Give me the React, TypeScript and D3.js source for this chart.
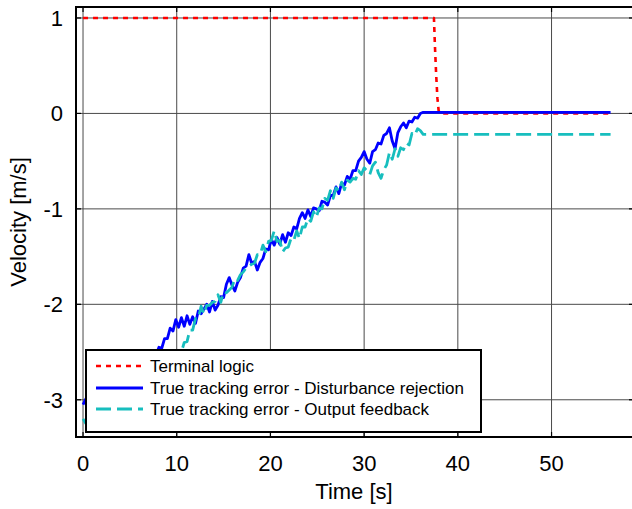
import React from "react";
import * as d3 from "d3";

const X_TICKS = [0, 10, 20, 30, 40, 50];
const Y_TICKS = [1, 0, -1, -2, -3];
const X_TICK_LABELS = ["0", "10", "20", "30", "40", "50"];
const Y_TICK_LABELS = ["1", "0", "-1", "-2", "-3"];

const SERIES_NAMES = [
  "Terminal logic",
  "True tracking error - Disturbance rejection",
  "True tracking error - Output feedback",
];

// Terminal logic [time, velocity]
const terminalLogic: [number, number][] = [
  [0, 1], [37.45, 1], [37.55, 0.72], [37.68, 0.42], [37.82, 0.16], [37.95, 0.03], [38.1, 0], [56.3, 0],
];

// sampled every 0.3 s from t = 0 to t = 36
const SAMPLE_STEP = 0.3;
const disturbanceRejectionRamp = [
  -3.05, -2.99, -3.08, -2.98, -3.0, -2.96, -2.97, -2.88, -2.95, -2.84,
  -2.91, -2.8, -2.83, -2.79, -2.78, -2.7, -2.78, -2.66, -2.73, -2.6,
  -2.69, -2.57, -2.61, -2.58, -2.56, -2.52, -2.53, -2.45, -2.46, -2.36,
  -2.36, -2.25, -2.28, -2.16, -2.24, -2.14, -2.23, -2.12, -2.21, -2.13,
  -2.2, -2.07, -2.1, -2.05, -2.0, -2.08, -1.97, -2.06, -2.01, -1.92,
  -1.93, -1.79, -1.72, -1.8, -1.86, -1.77, -1.72, -1.62, -1.6, -1.48,
  -1.57, -1.55, -1.64, -1.56, -1.52, -1.42, -1.43, -1.32, -1.38, -1.3,
  -1.37, -1.27, -1.35, -1.25, -1.28, -1.19, -1.21, -1.1, -1.04, -1.1,
  -1.01, -1.08, -0.99, -1.0, -1.02, -0.92, -0.93, -0.96, -0.86, -0.86,
  -0.77, -0.84, -0.73, -0.75, -0.66, -0.69, -0.6, -0.6, -0.5, -0.46,
  -0.4, -0.48, -0.52, -0.4, -0.38, -0.31, -0.32, -0.23, -0.21, -0.15,
  -0.29, -0.37, -0.2, -0.14, -0.1, -0.15, -0.08, -0.09, -0.04, -0.05,
  0.0,
];
const disturbanceRejectionTail: [number, number][] = [[36.3, 0.012], [56.3, 0.012]];

const outputFeedbackRamp = [
  -3.2, -3.25, -3.15, -3.21, -3.11, -3.17, -3.08, -3.09, -3.05, -3.06,
  -3.02, -3.01, -2.95, -3.03, -2.92, -2.94, -2.9, -2.91, -2.86, -2.87,
  -2.83, -2.84, -2.76, -2.84, -2.73, -2.76, -2.72, -2.72, -2.68, -2.67,
  -2.6, -2.67, -2.56, -2.58, -2.49, -2.5, -2.4, -2.39, -2.27, -2.27,
  -2.15, -2.15, -2.02, -2.1, -2.01, -2.01, -1.98, -1.97, -1.9, -1.98,
  -1.87, -1.88, -1.85, -1.82, -1.73, -1.75, -1.69, -1.66, -1.62, -1.6,
  -1.58, -1.57, -1.48, -1.48, -1.38, -1.45, -1.34, -1.33, -1.23, -1.34,
  -1.33, -1.45, -1.41, -1.4, -1.31, -1.33, -1.23, -1.31, -1.19, -1.19,
  -1.1, -1.13, -1.03, -1.09, -0.99, -1.0, -0.89, -0.91, -0.81, -0.89,
  -0.78, -0.81, -0.72, -0.8, -0.7, -0.72, -0.68, -0.69, -0.6, -0.64,
  -0.57, -0.6, -0.64, -0.55, -0.51, -0.62, -0.68, -0.59, -0.54, -0.41,
  -0.48, -0.37, -0.45, -0.36, -0.38, -0.31, -0.33, -0.21, -0.23, -0.16,
  -0.18,
];
const outputFeedbackTail: [number, number][] = [[36.3, -0.22], [56.3, -0.22]];

const COLORS = ["#ff0000", "#0000ff", "#17bebe"];
const DASHES = ["5 5", "none", "15 6"];

export default function App() {
  const W = 632;
  const H = 509;
  const left = 76;
  const right = 634;
  const top = 7;
  const bottom = 437;

  const x = d3.scaleLinear().domain([-0.75, 58.8]).range([left, right]);
  const y = d3.scaleLinear().domain([-3.39, 1.115]).range([bottom, top]);

  const drPts: [number, number][] = disturbanceRejectionRamp
    .map((v, i) => [i * SAMPLE_STEP, v] as [number, number])
    .concat(disturbanceRejectionTail);
  const ofPts: [number, number][] = outputFeedbackRamp
    .map((v, i) => [i * SAMPLE_STEP, v] as [number, number])
    .concat(outputFeedbackTail);

  const line = d3
    .line<[number, number]>()
    .x((d) => x(d[0]))
    .y((d) => y(d[1]));

  const seriesData = [terminalLogic, drPts, ofPts];
  const font = "'Liberation Sans', Arial, sans-serif";

  const legX = 86;
  const legY = 350;
  const legW = 395;
  const legH = 82;
  const rows = [366, 388, 409];

  return (
    <svg
      width={W}
      height={H}
      style={{ position: "absolute", left: 0, top: 0, background: "#fff" }}
      fontFamily={font}
    >
      <defs>
        <clipPath id="plotclip">
          <rect x={left} y={top} width={right - left} height={bottom - top} />
        </clipPath>
      </defs>
      <rect x={0} y={0} width={W} height={H} fill="#fff" />
      {/* grid */}
      <g stroke="#4a4a4a" strokeWidth={1}>
        {X_TICKS.map((t) => (
          <line key={"gx" + t} x1={x(t)} x2={x(t)} y1={top} y2={bottom} />
        ))}
        {Y_TICKS.map((t) => (
          <line key={"gy" + t} x1={left} x2={right} y1={y(t)} y2={y(t)} />
        ))}
      </g>
      {/* ticks */}
      <g stroke="#000" strokeWidth={1.2}>
        {X_TICKS.map((t) => (
          <g key={"tx" + t}>
            <line x1={x(t)} x2={x(t)} y1={bottom} y2={bottom - 5} />
            <line x1={x(t)} x2={x(t)} y1={top} y2={top + 5} />
          </g>
        ))}
        {Y_TICKS.map((t) => (
          <g key={"ty" + t}>
            <line x1={left} x2={left + 5} y1={y(t)} y2={y(t)} />
            <line x1={right} x2={right - 5} y1={y(t)} y2={y(t)} />
          </g>
        ))}
      </g>
      {/* series */}
      <g clipPath="url(#plotclip)" fill="none">
        {seriesData.map((d, i) => (
          <path
            key={"s" + i}
            d={line(d) || ""}
            stroke={COLORS[i]}
            strokeWidth={i === 0 ? 2.6 : 2.8}
            strokeDasharray={DASHES[i]}
            strokeLinejoin="round"
          />
        ))}
      </g>
      {/* frame */}
      <rect
        x={left}
        y={top}
        width={right - left}
        height={bottom - top}
        fill="none"
        stroke="#000"
        strokeWidth={2}
      />
      {/* tick labels */}
      <g fontSize={22} fill="#000">
        {X_TICKS.map((t, i) => (
          <text key={"lx" + t} x={x(t)} y={471} textAnchor="middle">
            {X_TICK_LABELS[i]}
          </text>
        ))}
        {Y_TICKS.map((t, i) => (
          <text key={"ly" + t} x={63} y={y(t) + 8} textAnchor="end">
            {Y_TICK_LABELS[i]}
          </text>
        ))}
      </g>
      {/* axis labels */}
      <text x={(left + right) / 2 - 1} y={499} textAnchor="middle" fontSize={22}>
        Time [s]
      </text>
      <text
        transform={`translate(26, ${(top + bottom) / 2}) rotate(-90)`}
        textAnchor="middle"
        fontSize={22}
      >
        Velocity [m/s]
      </text>
      {/* legend */}
      <rect x={legX} y={legY} width={legW} height={legH} fill="#fff" stroke="#000" strokeWidth={2} />
      {SERIES_NAMES.map((name, i) => (
        <g key={"leg" + i}>
          <line
            x1={96}
            x2={143}
            y1={rows[i]}
            y2={rows[i]}
            stroke={COLORS[i]}
            strokeWidth={i === 0 ? 2.6 : 2.8}
            strokeDasharray={DASHES[i]}
          />
          <text x={150} y={rows[i] + 6} fontSize={17}>
            {name}
          </text>
        </g>
      ))}
    </svg>
  );
}
